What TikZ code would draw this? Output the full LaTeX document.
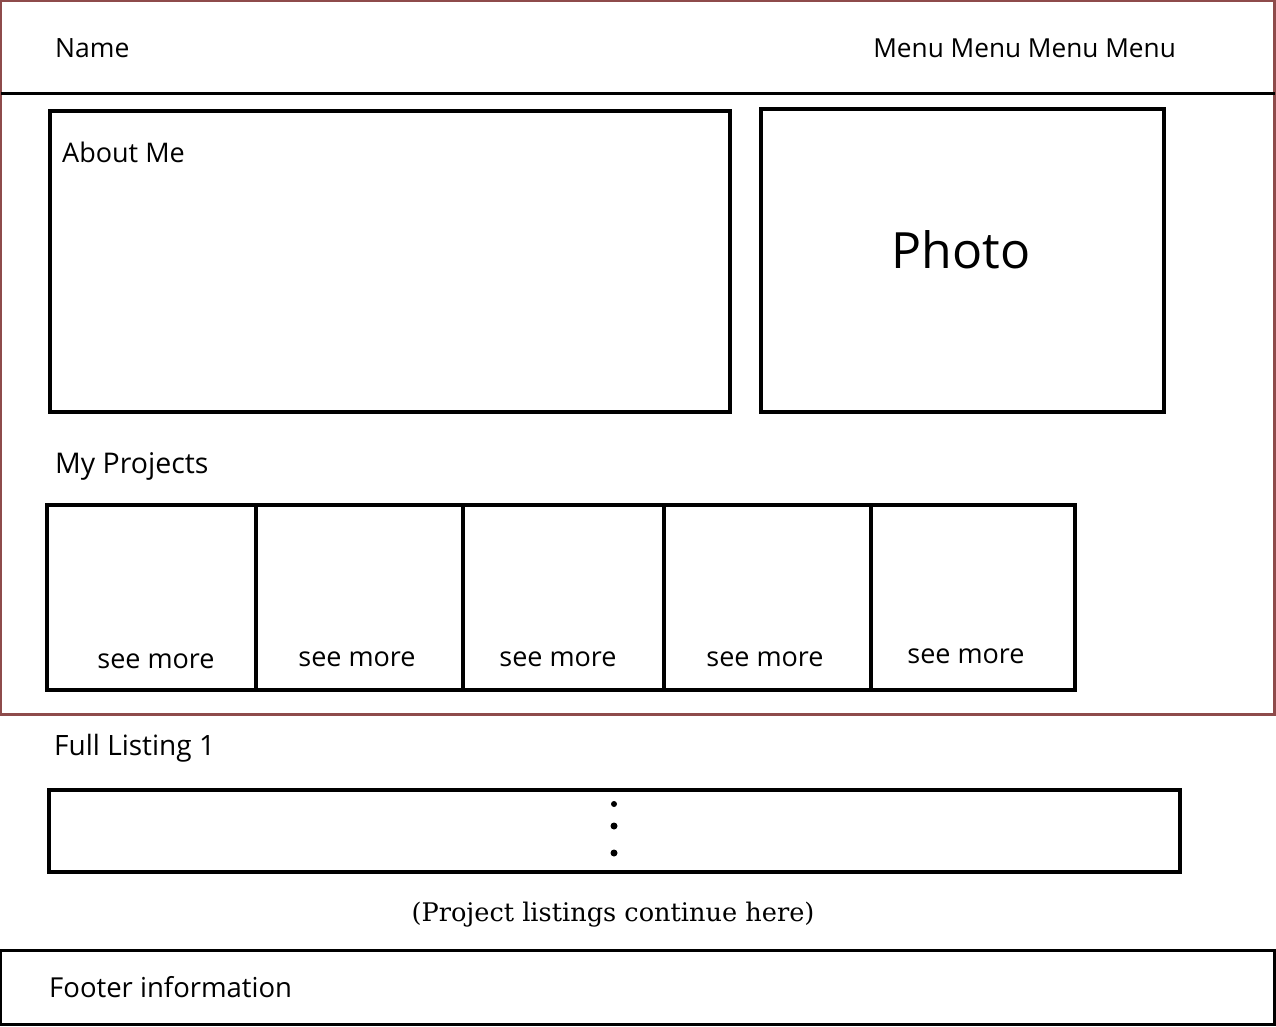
\documentclass[tikz,border=0pt]{standalone}
\usepackage{fontspec}
\setmainfont{Open Sans}
\newfontfamily\slabfont{DejaVu Serif}
\definecolor{maroon}{HTML}{8E4B4B}
\tikzset{
  box/.style={draw=black, line width=3.5pt},
  lbl/.style={anchor=base west, inner sep=0pt, font=\fontsize{27}{32}\selectfont},
  more/.style={anchor=base, inner sep=0pt, font=\fontsize{27}{32}\selectfont},
  dotc/.style={fill=black, circle, inner sep=0pt, minimum size=7pt}
}
\begin{document}
\begin{tikzpicture}[x=1pt,y=-1pt]
\useasboundingbox[fill=white] (0,0) rectangle (1276,1026);
% outer page frame
\draw[draw=maroon, line width=2.5pt] (1,1) rectangle (1274.5,714.5) coordinate (frameBR);
\coordinate (hl) at (1,93);
\coordinate (hr) at (1274.5,93);
\draw[line width=3pt] (hl) -- (hr);
\node[lbl, font=\fontsize{26.5}{32}\selectfont] (name) at (55,57) {Name};
\node[lbl, anchor=base east, font=\fontsize{26.2}{32}\selectfont] (menu) at (1176,57) {Menu Menu Menu Menu};
% about and photo
\draw[box] (50,111) rectangle (730,412);
\node[lbl] (about) at (62,162) {About Me};
\draw[box] (761,109) rectangle (1164,412);
\node[anchor=center, inner sep=0pt, font=\fontsize{50}{56}\selectfont] (photo) at (961,250) {Photo};
% projects
\node[lbl, font=\fontsize{28.5}{32}\selectfont] (myproj) at (55,473) {My Projects};
\draw[box] (47,505) rectangle (1075,690);
\foreach \x in {256,463,664,871}{\draw[line width=3.5pt] (\x,505) -- (\x,690);}
\node[more] (m1) at (156,668) {see more};
\node[more] (m2) at (357,666) {see more};
\node[more] (m3) at (558,666) {see more};
\node[more] (m4) at (765,666) {see more};
\node[more] (m5) at (966,663) {see more};
% full listing
\node[lbl, font=\fontsize{28}{32}\selectfont] (full) at (54,755) {Full Listing 1};
\draw[box] (49,790) rectangle (1180,872);
\node[dotc, minimum size=6pt] (d1) at (614,804) {};
\node[dotc] (d2) at (614,826) {};
\node[dotc] (d3) at (614,853) {};
\node[anchor=base, inner sep=0pt, font=\slabfont\fontsize{25.6}{30}\selectfont] (cont) at (613,921) {(Project listings continue here)};
% footer
\draw[box] (0,950.5) rectangle (1275,1024.5);
\node[lbl, font=\fontsize{27.5}{32}\selectfont] (footer) at (49,997) {Footer information};
\end{tikzpicture}
\end{document}
